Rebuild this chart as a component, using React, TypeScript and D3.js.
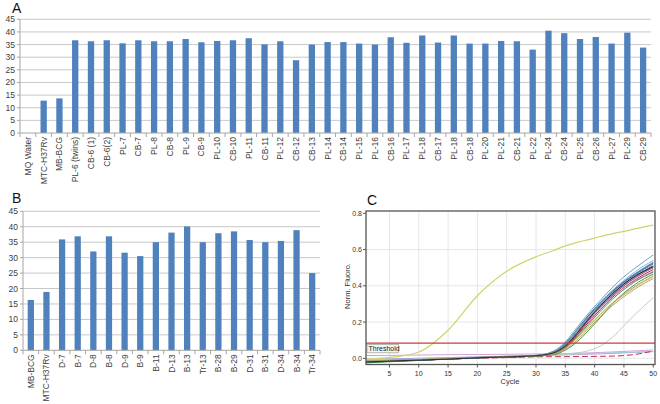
import React from "react";
import * as d3 from "d3";

// ---------- Panel A data ----------
const catsA = [
  "MQ Water", "MTC-H37Rv", "MB-BCG", "PL-6 (twins)", "CB-6 (1)", "CB-6(2)", "PL-7", "CB-7", "PL-8", "CB-8",
  "PL-9", "CB-9", "PL-10", "CB-10", "PL-11", "CB-11", "PL-12", "CB-12", "CB-13", "PL-14",
  "CB-14", "PL-15", "PL-16", "CB-16", "PL-17", "PL-18", "CB-17", "PL-18", "CB-18", "PL-20",
  "PL-21", "CB-21", "PL-22", "PL-24", "CB-24", "PL-25", "CB-26", "PL-27", "PL-29", "CB-29",
];
const valsA = [
  0, 12.8, 13.7, 36.7, 36.3, 36.7, 35.5, 36.7, 36.3, 36.3,
  37.2, 35.9, 36.4, 36.7, 37.5, 35.1, 36.3, 28.8, 35.0, 36.0,
  36.0, 35.4, 35.0, 37.9, 35.7, 38.6, 35.8, 38.6, 35.4, 35.4,
  36.4, 36.3, 33.0, 40.5, 39.5, 37.2, 38.0, 35.4, 39.7, 33.8,
];
// ---------- Panel B data ----------
const catsB = [
  "MB-BCG", "MTC-H37Rv", "D-7", "B-7", "D-8", "B-8", "D-9", "B-9", "B-11", "D-13",
  "B-13", "Tr-13", "B-28", "B-29", "D-31", "B-31", "D-34", "B-34", "Tr-34",
];
const valsB = [
  16.3, 18.9, 35.9, 36.9, 32.0, 36.9, 31.6, 30.5, 35.0, 38.1,
  40.1, 35.0, 37.9, 38.5, 35.7, 35.0, 35.4, 38.9, 25.0,
];
const barTicks = [0, 5, 10, 15, 20, 25, 30, 35, 40, 45];

// ---------- Panel C data ----------
const cycles = [1, 5, 10, 15, 20, 25, 30, 33, 35, 37, 39, 41, 43, 45, 47, 50];
const positiveControl = [-0.005, 0.005, 0.035, 0.155, 0.345, 0.48, 0.56, 0.595, 0.62, 0.64, 0.655, 0.672, 0.688, 0.70, 0.715, 0.735];
const sampleCurves = [
  [-0.018, -0.014, -0.009, -0.003, 0.004, 0.009, 0.016, 0.04, 0.09, 0.17, 0.25, 0.32, 0.39, 0.45, 0.50, 0.57],
  [-0.02, -0.015, -0.01, -0.004, 0.003, 0.008, 0.015, 0.035, 0.08, 0.155, 0.235, 0.305, 0.37, 0.425, 0.47, 0.53],
  [-0.022, -0.017, -0.011, -0.004, 0.003, 0.008, 0.014, 0.03, 0.07, 0.14, 0.22, 0.29, 0.355, 0.41, 0.455, 0.51],
  [-0.02, -0.015, -0.01, -0.004, 0.003, 0.008, 0.013, 0.028, 0.065, 0.13, 0.21, 0.28, 0.345, 0.40, 0.445, 0.50],
  [-0.019, -0.014, -0.009, -0.003, 0.004, 0.008, 0.012, 0.025, 0.06, 0.125, 0.2, 0.27, 0.335, 0.39, 0.435, 0.49],
  [-0.025, -0.019, -0.012, -0.005, 0.002, 0.007, 0.012, 0.02, 0.045, 0.09, 0.155, 0.225, 0.3, 0.36, 0.41, 0.465],
  [-0.015, -0.011, -0.007, -0.001, 0.005, 0.009, 0.013, 0.022, 0.05, 0.1, 0.165, 0.23, 0.29, 0.34, 0.385, 0.44],
  [-0.016, -0.012, -0.008, -0.002, 0.004, 0.009, 0.013, 0.024, 0.055, 0.11, 0.175, 0.24, 0.3, 0.35, 0.395, 0.45],
  [-0.017, -0.013, -0.008, -0.002, 0.004, 0.009, 0.015, 0.038, 0.085, 0.16, 0.24, 0.31, 0.375, 0.43, 0.48, 0.54],
  [-0.021, -0.016, -0.01, -0.004, 0.003, 0.008, 0.014, 0.033, 0.075, 0.148, 0.228, 0.298, 0.362, 0.418, 0.462, 0.52],
  [-0.018, -0.014, -0.009, -0.003, 0.004, 0.008, 0.014, 0.03, 0.068, 0.136, 0.214, 0.284, 0.348, 0.402, 0.45, 0.505],
  [-0.017, -0.013, -0.008, -0.002, 0.004, 0.009, 0.014, 0.03, 0.07, 0.14, 0.215, 0.28, 0.34, 0.39, 0.43, 0.48],
  [-0.02, -0.015, -0.01, -0.004, 0.003, 0.008, 0.015, 0.036, 0.082, 0.158, 0.238, 0.306, 0.368, 0.42, 0.465, 0.525],
  [-0.016, -0.012, -0.007, -0.001, 0.005, 0.01, 0.016, 0.037, 0.083, 0.155, 0.23, 0.295, 0.355, 0.405, 0.45, 0.5],
  [-0.023, -0.017, -0.011, -0.004, 0.003, 0.008, 0.013, 0.026, 0.058, 0.118, 0.19, 0.26, 0.325, 0.38, 0.425, 0.475],
  [-0.016, -0.012, -0.007, -0.001, 0.005, 0.009, 0.013, 0.025, 0.057, 0.115, 0.18, 0.245, 0.305, 0.355, 0.4, 0.455],
  [-0.02, -0.015, -0.01, -0.004, 0.003, 0.008, 0.014, 0.03, 0.068, 0.138, 0.218, 0.29, 0.355, 0.41, 0.455, 0.505],
];
const sampleColors = [
  "#5e9bb5", "#4a7fb5", "#1f2a6b", "#c2185b", "#9e1b3c", "#2e8b3e", "#a8a040", "#c0b050", "#7eb0d0",
  "#3a8c8c", "#7b4f9c", "#d87aa8", "#3060c0", "#8aa0b0", "#4a7a4a", "#b8a870", "#222222",
];
const lateCurve = [-0.012, -0.009, -0.005, 0.0, 0.006, 0.011, 0.017, 0.021, 0.024, 0.03, 0.042, 0.068, 0.115, 0.18, 0.245, 0.335];
const flatCurves = [
  [0.015, 0.016, 0.018, 0.02, 0.021, 0.022, 0.024, 0.025, 0.026, 0.028, 0.03, 0.032, 0.035, 0.038, 0.041, 0.046],
  [-0.005, -0.003, 0.0, 0.004, 0.008, 0.012, 0.016, 0.018, 0.019, 0.021, 0.023, 0.025, 0.027, 0.03, 0.033, 0.038],
  [-0.01, -0.007, -0.004, 0.0, 0.005, 0.01, 0.014, 0.017, 0.02, 0.023, 0.026, 0.028, 0.03, 0.032, 0.034, 0.036],
  [-0.018, -0.014, -0.01, -0.005, 0.0, 0.004, 0.008, 0.009, 0.009, 0.01, 0.01, 0.011, 0.012, 0.015, 0.022, 0.04],
];
const flatColors = ["#d8a0d8", "#a0a0d0", "#a8c8e0", "#c03050"];
const thresholdValue = 0.084;
const cTicksX = [5, 10, 15, 20, 25, 30, 35, 40, 45, 50];
const cTicksY = [0, 0.2, 0.4, 0.6, 0.8];

const FONT = "'Liberation Sans', Arial, sans-serif";
const BAR = "#4f81bd";
const GRID = "#c9c9c9";
const AXIS = "#a6a6a6";
const TXT = "#404040";

function BarPanel({ cats, vals, x0, x1, yBase, yTop, label, labelX, labelY }: any) {
  const x = d3.scaleBand<string>().domain(cats.map((c: string, i: number) => i + "")).range([x0, x1]).paddingInner(0.6).paddingOuter(0.3);
  const y = d3.scaleLinear().domain([0, 45]).range([yBase, yTop]);
  const step = x.step();
  return (
    <g>
      <text x={labelX} y={labelY} fontSize={14} fontFamily={FONT} fill="#111">{label}</text>
      {barTicks.map((t) => (
        <g key={t}>
          {t > 0 && <line x1={x0} x2={x1} y1={y(t)} y2={y(t)} stroke={GRID} strokeWidth={1} />}
          <line x1={x0 - 3} x2={x0} y1={y(t)} y2={y(t)} stroke={AXIS} />
          <text x={x0 - 5} y={y(t) + 3} fontSize={8.5} fontFamily={FONT} fill={TXT} textAnchor="end">{t}</text>
        </g>
      ))}
      <line x1={x0} x2={x0} y1={yTop} y2={yBase} stroke={AXIS} />
      {vals.map((v: number, i: number) => (
        v > 0 ? <rect key={i} x={x(i + "")} y={y(v)} width={x.bandwidth()} height={y(0) - y(v)} fill={BAR} /> : null
      ))}
      <line x1={x0} x2={x1} y1={yBase} y2={yBase} stroke={AXIS} />
      {cats.map((c: string, i: number) => {
        const cx = (x(i + "") as number) + x.bandwidth() / 2;
        return (
          <g key={i}>
            <line x1={cx + step / 2} x2={cx + step / 2} y1={yBase} y2={yBase + 4} stroke={AXIS} />
            <text transform={`translate(${cx + 3},${yBase + 4}) rotate(-90)`} fontSize={8.5} fontFamily={FONT} fill={TXT} textAnchor="end">{c}</text>
          </g>
        );
      })}
      <line x1={x0} x2={x0} y1={yBase} y2={yBase + 4} stroke={AXIS} />
    </g>
  );
}

function PanelC() {
  const left = 366, right = 655, top = 211, bottom = 364.5;
  const x = d3.scaleLinear().domain([1, 50.3]).range([left, right]);
  const y = d3.scaleLinear().domain([0, 0.8]).range([358.3, 213.3]);
  const line = d3.line<number>().x((_, i) => x(cycles[i])).y((d) => y(d)).curve(d3.curveMonotoneX);
  return (
    <g>
      <text x={367} y={205} fontSize={14} fontFamily={FONT} fill="#111">C</text>
      <defs>
        <clipPath id="clipC"><rect x={left} y={top} width={right - left} height={bottom - top} /></clipPath>
      </defs>
      <rect x={left} y={top} width={right - left} height={bottom - top} fill="#fff" />
      {cTicksX.slice(0, -1).map((t) => (
        <line key={t} x1={x(t)} x2={x(t)} y1={top} y2={bottom} stroke="#e6e6e6" />
      ))}
      {cTicksY.slice(0, -1).map((t) => (
        <line key={t} x1={left} x2={right} y1={y(t)} y2={y(t)} stroke="#e6e6e6" />
      ))}
      <g clipPath="url(#clipC)">
        {flatCurves.map((d, i) => (
          <path key={"f" + i} d={line(d) as string} fill="none" stroke={flatColors[i]} strokeWidth={1} strokeDasharray={i === 3 ? "6,3" : undefined} />
        ))}
        <path d={line(lateCurve) as string} fill="none" stroke="#b8d0b8" strokeWidth={1} />
        {sampleCurves.map((d, i) => (
          <path key={"s" + i} d={line(d) as string} fill="none" stroke={sampleColors[i]} strokeWidth={0.9} />
        ))}
        <path d={line(positiveControl) as string} fill="none" stroke="#d2d26c" strokeWidth={1.2} />
        <line x1={left} x2={right} y1={y(thresholdValue)} y2={y(thresholdValue)} stroke="#d03a3a" strokeWidth={1.2} />
      </g>
      <rect x={left + 1} y={344.3} width={31.5} height={8.5} fill="#f4f4f4" stroke="#9a9a9a" strokeWidth={0.7} />
      <text x={left + 2.5} y={351.3} fontSize={7} fontFamily={FONT} fill="#222">Threshold</text>
      <rect x={left} y={top} width={right - left} height={bottom - top} fill="none" stroke="#555" strokeWidth={1.3} />
      {cTicksX.map((t) => (
        <g key={t}>
          <line x1={x(t)} x2={x(t)} y1={bottom} y2={bottom + 3} stroke="#555" />
          <text x={x(t)} y={375.5} fontSize={7} fontFamily={FONT} fill="#333" textAnchor="middle">{t}</text>
        </g>
      ))}
      {cTicksY.map((t) => (
        <g key={t}>
          <line x1={left - 3} x2={left} y1={y(t)} y2={y(t)} stroke="#555" />
          <text x={362} y={y(t) + 2.5} fontSize={7} fontFamily={FONT} fill="#333" textAnchor="end">{t.toFixed(1)}</text>
        </g>
      ))}
      <text x={510} y={384} fontSize={7.5} fontFamily={FONT} fill="#333" textAnchor="middle">Cycle</text>
      <text transform="translate(350,286) rotate(-90)" fontSize={7.5} fontFamily={FONT} fill="#333" textAnchor="middle">Norm. Fluoro.</text>
    </g>
  );
}

export default function App() {
  return (
    <svg width={660} height={404} style={{ position: "absolute", left: 0, top: 0, background: "#fff" }}>
      <rect width={660} height={404} fill="#fff" />
      <BarPanel cats={catsA} vals={valsA} x0={20} x1={651} yBase={133} yTop={19.3} label="A" labelX={12} labelY={13} />
      <BarPanel cats={catsB} vals={valsB} x0={23} x1={320} yBase={350.3} yTop={211.3} label="B" labelX={12} labelY={203} />
      <PanelC />
    </svg>
  );
}
